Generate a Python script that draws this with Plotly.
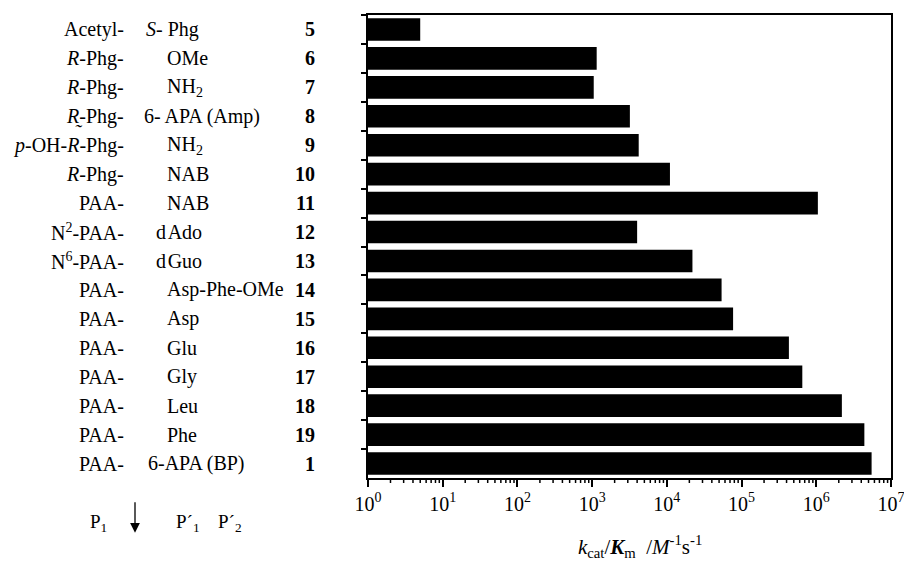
import math
import plotly.graph_objects as go

# ---- data ----
compounds = ["5", "6", "7", "8", "9", "10", "11", "12", "13", "14", "15", "16", "17", "18", "19", "1"]
p1_groups = ["Acetyl-", "<i>R</i>-Phg-", "<i>R</i>-Phg-", "<i>R\u0330</i>-Phg-", "<i>p</i>-OH-<i>R</i>-Phg-",
             "<i>R</i>-Phg-", "PAA-", "N<sup>2</sup>-PAA-", "N<sup>6</sup>-PAA-", "PAA-", "PAA-", "PAA-",
             "PAA-", "PAA-", "PAA-", "PAA-"]
p1prime_groups = ["<i>S</i>- Phg", "OMe", "NH<sub>2</sub>", "6- APA (Amp)", "NH<sub>2</sub>", "NAB", "NAB",
                  "d\u200aAdo", "d\u200aGuo", "Asp-Phe-OMe", "Asp", "Glu", "Gly", "Leu", "Phe", "6-APA (BP)"]
kcat_km = [5, 1150, 1050, 3200, 4200, 11000, 1.05e6, 4000, 22000, 54000, 77000, 4.3e5, 6.5e5, 2.2e6, 4.4e6, 5.5e6]
tick_vals = [1, 10, 100, 1e3, 1e4, 1e5, 1e6, 1e7]
tick_text = ["10<sup>%d</sup>" % k for k in range(8)]
minor_vals = [m * 10 ** k for k in range(7) for m in range(2, 10)]
x_range_log = [0, 7]

# ---- layout geometry (page pixels; the html body adds an 8px offset) ----
OFF = 8
W, H = 912 - OFF, 562 - OFF
L, R, T, B = 368 - OFF, 891 - OFF, 13 - OFF, 478 - OFF
PW, PH = R - L, B - T


def xp(px):
    return (px - OFF - L) / PW


def yp(py):
    return (B - (py - OFF)) / PH


# left edge (page px) of the P'1 label column per row
p1prime_left = [146, 167, 167, 144, 167, 167, 167, 156, 156, 167, 167, 167, 167, 167, 167, 148]

FONT = "Liberation Serif, Times New Roman, serif"
FS = 20

fig = go.Figure()
fig.add_trace(go.Bar(
    x=kcat_km, y=compounds, orientation="h",
    marker=dict(color="black", line=dict(width=0)),
    hoverinfo="x+y",
))

ann = []
for i, c in enumerate(compounds):
    ann.append(dict(text=p1_groups[i], x=xp(126), y=i, xref="paper", yref="y",
                    xanchor="right", yanchor="middle", showarrow=False,
                    font=dict(size=FS, color="black", family=FONT)))
    ann.append(dict(text=p1prime_groups[i], x=xp(p1prime_left[i] - 2), y=i, xref="paper", yref="y",
                    xanchor="left", yanchor="middle", showarrow=False,
                    font=dict(size=FS, color="black", family=FONT)))
    ann.append(dict(text="<b>%s</b>" % c, x=xp(317), y=i, xref="paper", yref="y",
                    xanchor="right", yanchor="middle", showarrow=False,
                    font=dict(size=FS, color="black", family=FONT)))

# bottom-left cleavage legend
for txt, px in [("P<sub>1</sub>", 98), ("P\u00b4<sub>1</sub>", 188), ("P\u00b4<sub>2</sub>", 230)]:
    ann.append(dict(text=txt, x=xp(px), y=yp(523), xref="paper", yref="paper",
                    xanchor="center", yanchor="middle", showarrow=False,
                    font=dict(size=19, color="black", family=FONT)))
ann.append(dict(text="", x=xp(135), y=yp(533), xref="paper", yref="paper",
                ax=0, ay=-32, showarrow=True, arrowhead=2, arrowsize=1.5, arrowwidth=1.3,
                arrowcolor="black"))
# axis title
ann.append(dict(text="<i>k</i><sub>cat</sub>/<b><i>K</i></b><sub>m</sub>  /<i>M</i><sup>-1</sup>s<sup>-1</sup>",
                x=xp(640), y=yp(547), xref="paper", yref="paper",
                xanchor="center", yanchor="middle", showarrow=False,
                font=dict(size=21, color="black", family=FONT)))

# minor log ticks: short lines just below the x axis (paper-referenced so they are not clipped)
span = x_range_log[1] - x_range_log[0]
shapes = []
for v in minor_vals:
    fx = (math.log10(v) - x_range_log[0]) / span
    shapes.append(dict(type="line", xref="paper", yref="paper", x0=fx, x1=fx, y0=0, y1=-5 / PH,
                       line=dict(color="black", width=1.5), layer="above"))

fig.update_layout(
    width=W, height=H,
    margin=dict(l=L, r=W - R, t=T, b=H - B),
    paper_bgcolor="white", plot_bgcolor="white",
    showlegend=False,
    bargap=0.22,
    font=dict(family=FONT, color="black", size=20),
    annotations=ann,
    shapes=shapes,
    xaxis=dict(
        type="log", range=x_range_log,
        tickvals=tick_vals, ticktext=tick_text,
        ticks="outside", ticklen=7, tickwidth=1.5, tickcolor="black",
        showgrid=False, zeroline=False,
        showline=True, linecolor="black", linewidth=1.5, mirror=True,
        tickfont=dict(size=20, family=FONT, color="black"),
        ticklabeloverflow="allow",
    ),
    yaxis=dict(
        type="category", autorange=False, range=[15.5, -0.5],
        showticklabels=False,
        ticks="outside", ticklen=5, tickwidth=1.5, tickcolor="black", tickson="boundaries",
        showgrid=False, zeroline=False,
        showline=True, linecolor="black", linewidth=1.5, mirror=True,
    ),
)

fig.write_html("out.html")
